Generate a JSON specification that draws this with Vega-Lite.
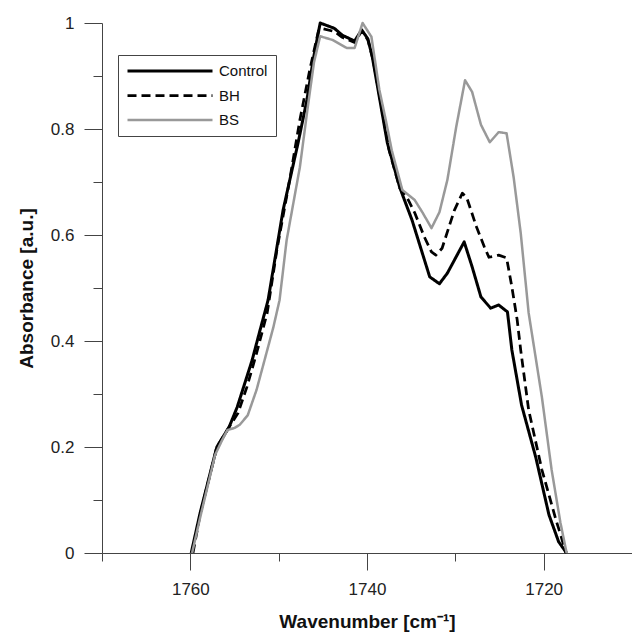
{
  "$schema": "https://vega.github.io/schema/vega-lite/v6.json",
  "width": 530,
  "height": 530,
  "autosize": {"type": "none"},
  "padding": {"left": 102, "top": 23, "right": 0, "bottom": 79},
  "background": "white",
  "config": {
    "view": {"stroke": null},
    "font": "Liberation Sans",
    "axis": {"grid": false, "domainColor": "#444", "tickColor": "#444", "labelColor": "#222", "titleColor": "#111", "labelFont": "Liberation Sans", "titleFont": "Liberation Sans"}
  },
  "data": {"values": [
    {"s":"Control","w":1759.9,"a":0},
    {"s":"Control","w":1758.9,"a":0.075},
    {"s":"Control","w":1757.0,"a":0.2},
    {"s":"Control","w":1755.6,"a":0.238},
    {"s":"Control","w":1754.7,"a":0.275},
    {"s":"Control","w":1753.0,"a":0.364},
    {"s":"Control","w":1752.1,"a":0.421},
    {"s":"Control","w":1751.2,"a":0.477},
    {"s":"Control","w":1749.5,"a":0.647},
    {"s":"Control","w":1747.8,"a":0.774},
    {"s":"Control","w":1746.8,"a":0.855},
    {"s":"Control","w":1746.1,"a":0.93},
    {"s":"Control","w":1745.3,"a":1.0},
    {"s":"Control","w":1743.7,"a":0.99},
    {"s":"Control","w":1742.8,"a":0.977},
    {"s":"Control","w":1741.4,"a":0.966},
    {"s":"Control","w":1740.6,"a":0.987},
    {"s":"Control","w":1739.9,"a":0.97},
    {"s":"Control","w":1739.4,"a":0.936},
    {"s":"Control","w":1738.6,"a":0.86},
    {"s":"Control","w":1737.7,"a":0.774},
    {"s":"Control","w":1736.3,"a":0.69},
    {"s":"Control","w":1734.9,"a":0.628},
    {"s":"Control","w":1732.9,"a":0.521},
    {"s":"Control","w":1731.8,"a":0.508},
    {"s":"Control","w":1730.9,"a":0.528},
    {"s":"Control","w":1729.0,"a":0.587},
    {"s":"Control","w":1728.1,"a":0.54},
    {"s":"Control","w":1727.1,"a":0.483},
    {"s":"Control","w":1726.0,"a":0.462},
    {"s":"Control","w":1725.1,"a":0.468},
    {"s":"Control","w":1724.1,"a":0.455},
    {"s":"Control","w":1723.6,"a":0.383},
    {"s":"Control","w":1722.5,"a":0.279},
    {"s":"Control","w":1720.9,"a":0.181},
    {"s":"Control","w":1719.4,"a":0.072},
    {"s":"Control","w":1718.3,"a":0.021},
    {"s":"Control","w":1717.4,"a":0},
    {"s":"BH","w":1759.7,"a":0},
    {"s":"BH","w":1758.9,"a":0.072},
    {"s":"BH","w":1757.0,"a":0.2},
    {"s":"BH","w":1755.6,"a":0.238},
    {"s":"BH","w":1754.6,"a":0.264},
    {"s":"BH","w":1753.6,"a":0.313},
    {"s":"BH","w":1752.5,"a":0.377},
    {"s":"BH","w":1751.3,"a":0.453},
    {"s":"BH","w":1750.2,"a":0.572},
    {"s":"BH","w":1748.7,"a":0.709},
    {"s":"BH","w":1747.6,"a":0.817},
    {"s":"BH","w":1746.5,"a":0.91},
    {"s":"BH","w":1745.5,"a":0.985},
    {"s":"BH","w":1745.2,"a":0.99},
    {"s":"BH","w":1743.7,"a":0.984},
    {"s":"BH","w":1742.8,"a":0.973},
    {"s":"BH","w":1741.4,"a":0.963},
    {"s":"BH","w":1740.6,"a":0.985},
    {"s":"BH","w":1739.9,"a":0.968},
    {"s":"BH","w":1739.3,"a":0.93},
    {"s":"BH","w":1738.5,"a":0.855},
    {"s":"BH","w":1737.5,"a":0.76},
    {"s":"BH","w":1736.3,"a":0.689},
    {"s":"BH","w":1735.5,"a":0.672},
    {"s":"BH","w":1734.6,"a":0.642},
    {"s":"BH","w":1733.5,"a":0.596},
    {"s":"BH","w":1732.7,"a":0.568},
    {"s":"BH","w":1732.2,"a":0.562},
    {"s":"BH","w":1731.5,"a":0.575},
    {"s":"BH","w":1730.1,"a":0.647},
    {"s":"BH","w":1729.2,"a":0.679},
    {"s":"BH","w":1728.7,"a":0.67},
    {"s":"BH","w":1727.6,"a":0.615},
    {"s":"BH","w":1726.7,"a":0.577},
    {"s":"BH","w":1726.2,"a":0.558},
    {"s":"BH","w":1725.1,"a":0.562},
    {"s":"BH","w":1724.2,"a":0.557},
    {"s":"BH","w":1723.6,"a":0.502},
    {"s":"BH","w":1723.0,"a":0.44},
    {"s":"BH","w":1722.6,"a":0.383},
    {"s":"BH","w":1721.7,"a":0.27},
    {"s":"BH","w":1720.2,"a":0.157},
    {"s":"BH","w":1718.6,"a":0.062},
    {"s":"BH","w":1718.0,"a":0.03},
    {"s":"BH","w":1717.5,"a":0},
    {"s":"BS","w":1759.8,"a":0},
    {"s":"BS","w":1758.9,"a":0.066},
    {"s":"BS","w":1757.2,"a":0.185},
    {"s":"BS","w":1756.4,"a":0.213},
    {"s":"BS","w":1755.8,"a":0.232},
    {"s":"BS","w":1755.0,"a":0.236},
    {"s":"BS","w":1754.4,"a":0.242},
    {"s":"BS","w":1753.5,"a":0.26},
    {"s":"BS","w":1752.5,"a":0.308},
    {"s":"BS","w":1751.5,"a":0.37},
    {"s":"BS","w":1750.6,"a":0.426},
    {"s":"BS","w":1749.9,"a":0.477},
    {"s":"BS","w":1749.1,"a":0.59},
    {"s":"BS","w":1747.6,"a":0.728},
    {"s":"BS","w":1746.7,"a":0.842},
    {"s":"BS","w":1746.0,"a":0.926},
    {"s":"BS","w":1745.3,"a":0.975},
    {"s":"BS","w":1743.9,"a":0.968},
    {"s":"BS","w":1742.3,"a":0.953},
    {"s":"BS","w":1741.4,"a":0.953},
    {"s":"BS","w":1740.5,"a":1.0},
    {"s":"BS","w":1739.5,"a":0.974},
    {"s":"BS","w":1738.6,"a":0.874},
    {"s":"BS","w":1737.8,"a":0.811},
    {"s":"BS","w":1737.2,"a":0.76},
    {"s":"BS","w":1736.0,"a":0.685},
    {"s":"BS","w":1734.6,"a":0.666},
    {"s":"BS","w":1733.7,"a":0.642},
    {"s":"BS","w":1732.7,"a":0.613},
    {"s":"BS","w":1731.8,"a":0.643},
    {"s":"BS","w":1730.9,"a":0.704},
    {"s":"BS","w":1729.9,"a":0.804},
    {"s":"BS","w":1728.9,"a":0.892},
    {"s":"BS","w":1728.1,"a":0.87},
    {"s":"BS","w":1727.1,"a":0.808},
    {"s":"BS","w":1726.1,"a":0.775},
    {"s":"BS","w":1725.1,"a":0.794},
    {"s":"BS","w":1724.2,"a":0.792},
    {"s":"BS","w":1723.4,"a":0.709},
    {"s":"BS","w":1722.6,"a":0.604},
    {"s":"BS","w":1721.7,"a":0.453},
    {"s":"BS","w":1720.2,"a":0.294},
    {"s":"BS","w":1719.1,"a":0.157},
    {"s":"BS","w":1718.1,"a":0.057},
    {"s":"BS","w":1717.4,"a":0}
  ]},
  "resolve": {"axis": {"x": "independent", "y": "independent"}},
  "layer": [
    {
      "mark": {"type": "point", "opacity": 0},
      "encoding": {
        "x": {"field": "w", "type": "quantitative",
              "scale": {"domain": [1710, 1770], "reverse": true, "nice": false, "zero": false},
              "axis": {"orient": "bottom", "values": [1770, 1750, 1730, 1710], "tickSize": 8, "labels": false, "domain": false, "title": null}},
        "y": {"field": "a", "type": "quantitative",
              "scale": {"domain": [0, 1], "nice": false},
              "axis": {"orient": "left", "values": [0.1, 0.3, 0.5, 0.7, 0.9], "tickSize": 9, "labels": false, "domain": false, "title": null}}
      }
    },
    {
      "mark": {"type": "line", "strokeJoin": "round"},
      "encoding": {
        "x": {"field": "w", "type": "quantitative", "sort": null,
              "axis": {"orient": "bottom", "values": [1760, 1740, 1720], "format": "d", "tickSize": 17, "labelFontSize": 17, "labelPadding": 11,
                       "title": "Wavenumber [cm⁻¹]", "titleFontSize": 19, "titleFontWeight": "bold", "titlePadding": 15}},
        "y": {"field": "a", "type": "quantitative",
              "axis": {"orient": "left", "values": [0, 0.2, 0.4, 0.6, 0.8, 1], "format": "~g", "tickSize": 18, "labelFontSize": 17, "labelPadding": 10,
                       "title": "Absorbance [a.u.]", "titleFontSize": 19, "titleFontWeight": "bold", "titlePadding": 14}},
        "order": {"field": "w", "type": "quantitative", "sort": "descending"},
        "color": {"field": "s", "type": "nominal",
                  "scale": {"domain": ["Control", "BH", "BS"], "range": ["#000000", "#000000", "#999999"]},
                  "legend": {"title": null, "orient": "none", "legendX": 16, "legendY": 32, "columns": 1, "symbolType": "stroke", "symbolSize": 7225,
                             "clipHeight": 16, "rowPadding": 8.5, "padding": 8, "strokeColor": "#444", "labelFontSize": 15, "labelOffset": 5,
                             "labelColor": "#111", "labelFont": "Liberation Sans"}},
        "strokeDash": {"field": "s", "type": "nominal",
                       "scale": {"domain": ["Control", "BH", "BS"], "range": [[1, 0], [9, 5], [1, 0]]}},
        "strokeWidth": {"field": "s", "type": "nominal",
                        "scale": {"domain": ["Control", "BH", "BS"], "range": [3, 2.5, 1.5]}}
      }
    }
  ]
}
